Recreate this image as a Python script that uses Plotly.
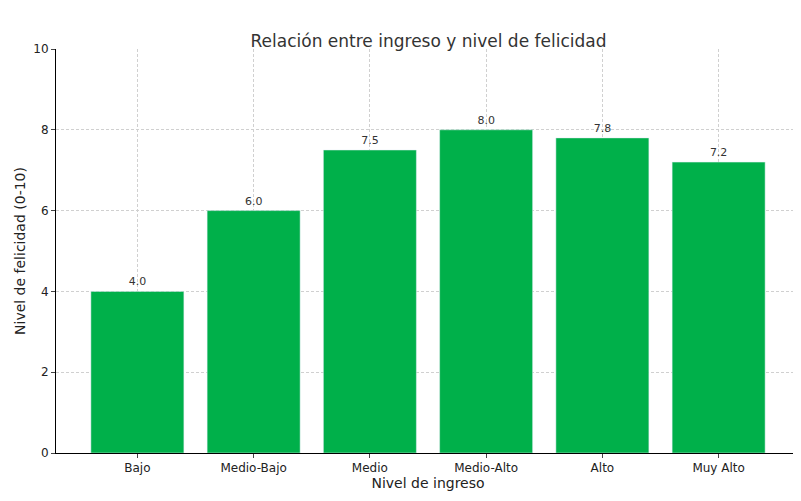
import plotly.graph_objects as go

categories = ["Bajo", "Medio-Bajo", "Medio", "Medio-Alto", "Alto", "Muy Alto"]
happiness = [4.0, 6.0, 7.5, 8.0, 7.8, 7.2]

fig = go.Figure(
    go.Bar(
        x=categories,
        y=happiness,
        marker_color="#00b04a",
        width=0.8,
        text=[f"{v:.1f}" for v in happiness],
        textposition="outside",
        textfont=dict(size=11, color="#333333"),
        cliponaxis=False,
    )
)

fig.update_layout(
    width=801,
    height=501,
    plot_bgcolor="white",
    paper_bgcolor="white",
    font=dict(family="DejaVu Sans", size=12, color="#222222"),
    title=dict(text="Relación entre ingreso y nivel de felicidad", x=0.525, y=0.945,
               xanchor="center", font=dict(size=17, color="#333333")),
    margin=dict(l=48, r=9, t=41, b=56),
    showlegend=False,
)
grid = dict(showgrid=True, gridcolor="#d0d0d0", griddash="3px,2px", gridwidth=0.7,
            showline=True, linecolor="black", ticks="outside", ticklen=4, automargin=False)
fig.update_xaxes(title_text="Nivel de ingreso", title_standoff=2,
                 range=[-0.7, 5.7], **grid)
fig.update_yaxes(title_text="Nivel de felicidad (0-10)", title_standoff=4,
                 range=[0, 10], dtick=2, zeroline=False, **grid)

fig.write_html("out.html")
